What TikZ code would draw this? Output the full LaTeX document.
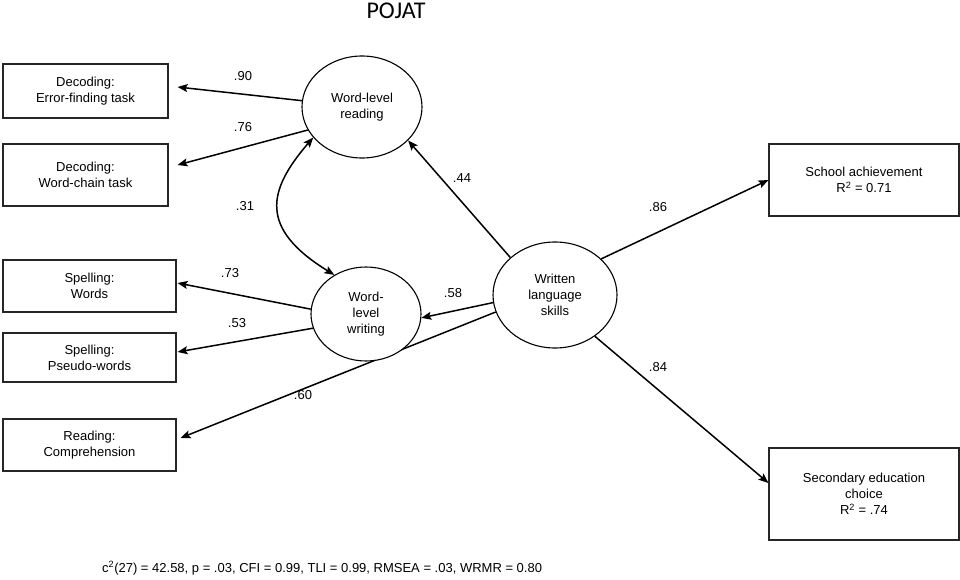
\documentclass[tikz,border=0pt]{standalone}
\usepackage{fontspec}
\setmainfont{Liberation Sans}
\newfontfamily\titlefont{Carlito}
\usetikzlibrary{arrows.meta,shapes.geometric}
\begin{document}
\begin{tikzpicture}[x=1pt,y=-1pt,
  box/.style={draw=black!85,line width=1.1pt,rectangle,inner sep=0pt,align=center,font=\fontsize{13}{16}\selectfont},
  latent/.style={draw=black,line width=1.1pt,ellipse,inner sep=0pt,align=center,fill=white,font=\fontsize{13}{16}\selectfont},
  tip/.style={Stealth[length=10pt,width=8pt,inset=2pt]},
  path/.style={line width=1.5pt,-{Stealth[length=10pt,width=8pt,inset=2pt]}},
  coef/.style={font=\fontsize{13}{16}\selectfont,inner sep=0pt}]
\useasboundingbox (0,0) rectangle (960,580);
\node[font=\titlefont\fontsize{24}{28}\selectfont] (title) at (396,11) {POJAT};
% boxes
\node[box,minimum width=165pt,minimum height=54pt] (ef) at (85.5,91) {Decoding:\\Error-finding task};
\node[box,minimum width=165pt,minimum height=62pt] (wc) at (85.5,175) {Decoding:\\Word-chain task};
\node[box,minimum width=173pt,minimum height=52pt] (sw) at (89.5,286) {Spelling:\\Words};
\node[box,minimum width=173pt,minimum height=49pt] (pw) at (89.5,357.5) {Spelling:\\Pseudo-words};
\node[box,minimum width=173pt,minimum height=52pt] (rc) at (89.5,445) {Reading:\\Comprehension};
\node[box,minimum width=190pt,minimum height=72pt] (sa) at (864,180) {School achievement\\R\textsuperscript{2} = 0.71};
\node[box,minimum width=190pt,minimum height=92pt] (se) at (864,494) {Secondary education\\choice\\R\textsuperscript{2} = .74};
% latent variables
\node[latent,minimum width=120pt,minimum height=102pt] (wlr) at (362,107) {Word-level\\reading};
\node[latent,minimum width=124pt,minimum height=106pt] (wls) at (555,295) {Written\\language\\skills};
% line passing behind word-level writing
\draw[path] (wls.196) -- ([xshift=4pt,yshift=7pt]rc.east);
\node[latent,minimum width=110pt,minimum height=94pt] (wlw) at (366,314) {Word-\\level\\writing};
% paths
\draw[path] (wlr.174) -- ([xshift=9pt,yshift=4pt]ef.east);
\draw[path] (wlr.203) -- ([xshift=9pt,yshift=10pt]wc.east);
\draw[line width=1.5pt,{Stealth[length=10pt,width=8pt,inset=2pt]}-{Stealth[length=10pt,width=8pt,inset=2pt]}] (wlr.212) .. controls (268,190) and (258,228) .. (wlw.129);
\draw[path] (wls.140) -- (wlr.324);
\draw[path] (wls.38) -- (sa.west);
\draw[path] (wls.187) -- (wlw.356);
\draw[path] (wls.314) -- ([yshift=11pt]se.west);
\draw[path] (wlw.175) -- ([xshift=1pt,yshift=3pt]sw.east);
\draw[path] (wlw.195) -- ([xshift=1pt,yshift=5.5pt]pw.east);
% coefficients
\node[coef] (c90) at (243,76) {.90};
\node[coef] (c76) at (243,127) {.76};
\node[coef] (c31) at (245,206) {.31};
\node[coef] (c44) at (462,178) {.44};
\node[coef] (c86) at (658,207) {.86};
\node[coef] (c73) at (230,273) {.73};
\node[coef] (c53) at (237,323) {.53};
\node[coef] (c58) at (453,293) {.58};
\node[coef] (c84) at (658,367) {.84};
\node[coef] (c60) at (303,395) {.60};
% fit statistics
\node[coef,anchor=west] (fit) at (102,568) {c\textsuperscript{2}(27) = 42.58, p = .03, CFI = 0.99, TLI = 0.99, RMSEA = .03, WRMR = 0.80};
\end{tikzpicture}
\end{document}
